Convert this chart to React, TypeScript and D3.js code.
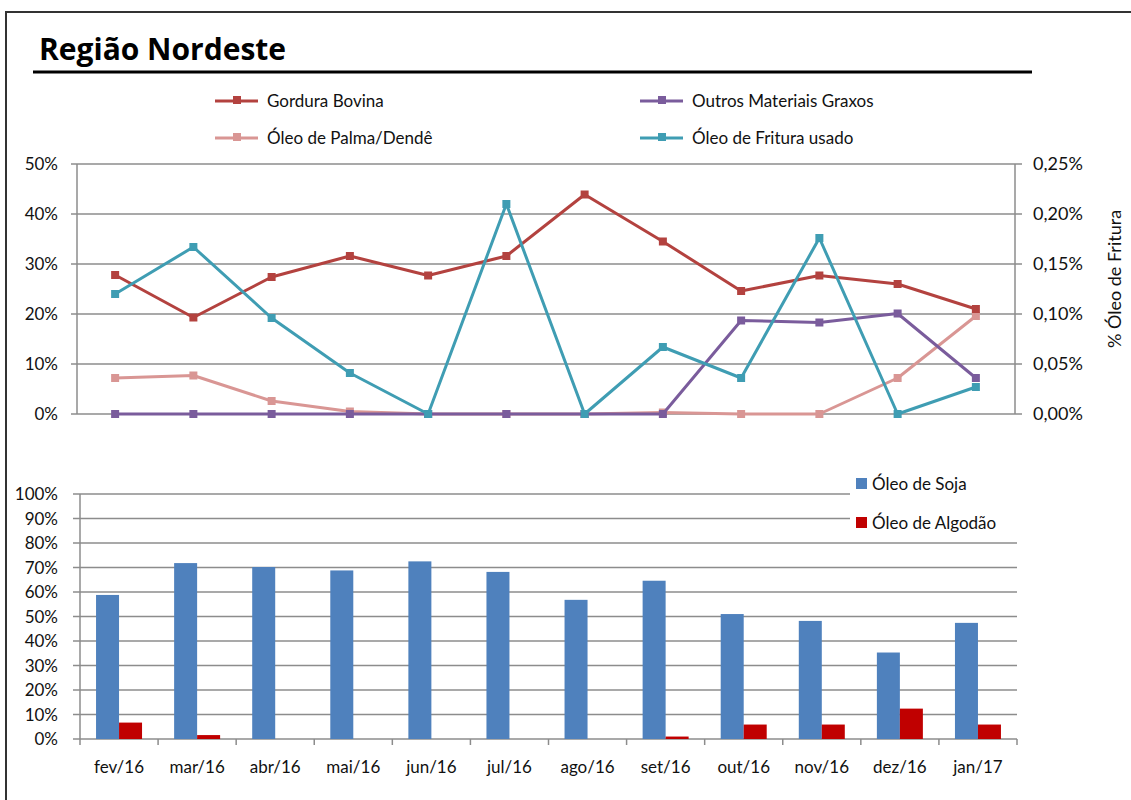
import React from "react";
import * as d3 from "d3";

const months = ["fev/16","mar/16","abr/16","mai/16","jun/16","jul/16","ago/16","set/16","out/16","nov/16","dez/16","jan/17"];
const gorduraBovina = [27.8,19.3,27.4,31.6,27.7,31.6,43.9,34.5,24.6,27.7,26.0,21.0];
const outrosMateriais = [0,0,0,0,0,0,0,0,18.7,18.3,20.1,7.2];
const oleoPalma = [7.2,7.7,2.6,0.5,0,0,0,0.3,0,0,7.2,19.6];
const oleoFritura = [0.120,0.167,0.096,0.041,0,0.210,0,0.067,0.036,0.176,0,0.027];
const oleoSoja = [58.8,71.8,70.2,68.8,72.5,68.2,56.8,64.6,51.0,48.2,35.3,47.4];
const oleoAlgodao = [6.7,1.6,0,0,0,0,0,1.0,5.9,5.9,12.4,5.9];
const leftTicks = [0,10,20,30,40,50];
const rightTicks = [0,0.05,0.1,0.15,0.2,0.25];
const barTicks = [0,10,20,30,40,50,60,70,80,90,100];

const C_GORD = "#B3423F";
const C_OUT = "#7A5C9C";
const C_PALMA = "#D99694";
const C_FRIT = "#3F9DB3";
const C_SOJA = "#4F81BD";
const C_ALG = "#C00000";
const GRID = "#8C8C8C";
const FONT = "Lato, 'Open Sans', sans-serif";

export default function App() {
  const xTop = d3.scaleBand<string>().domain(months).range([76, 1015]);
  const yL = d3.scaleLinear().domain([0, 50]).range([414, 164]);
  const yR = d3.scaleLinear().domain([0, 0.25]).range([414, 164]);
  const xBot = d3.scaleBand<string>().domain(months).range([80, 1017]);
  const yB = d3.scaleLinear().domain([0, 100]).range([739, 494]);
  const cx = (m: string) => (xTop(m) as number) + xTop.bandwidth() / 2;

  const lineL = d3.line<number>().x((_, i) => cx(months[i])).y((d) => yL(d));
  const lineR = d3.line<number>().x((_, i) => cx(months[i])).y((d) => yR(d));

  const series = [
    { name: "Óleo de Palma/Dendê", data: oleoPalma, color: C_PALMA, right: false },
    { name: "Outros Materiais Graxos", data: outrosMateriais, color: C_OUT, right: false },
    { name: "Gordura Bovina", data: gorduraBovina, color: C_GORD, right: false },
    { name: "Óleo de Fritura usado", data: oleoFritura, color: C_FRIT, right: true },
  ];

  const legendTop = [
    { name: "Gordura Bovina", color: C_GORD, x: 215, y: 101 },
    { name: "Outros Materiais Graxos", color: C_OUT, x: 640, y: 101 },
    { name: "Óleo de Palma/Dendê", color: C_PALMA, x: 215, y: 138 },
    { name: "Óleo de Fritura usado", color: C_FRIT, x: 640, y: 138 },
  ];

  const bw = 23;
  const bandB = xBot.bandwidth();
  const TF = 17;

  return (
    <svg width={1131} height={800} style={{ position: "absolute", left: 0, top: 0, fontFamily: FONT }}>
      <rect x={0} y={0} width={1131} height={800} fill="#fff" />
      <rect x={6} y={12} width={1140} height={800} fill="none" stroke="#333" strokeWidth={2} />
      <text x={39} y={60} fontSize={30} fontWeight="bold" fill="#000" style={{ fontFamily: "'Open Sans', sans-serif" }}>Região Nordeste</text>
      <line x1={33} x2={1032} y1={72} y2={72} stroke="#000" strokeWidth={3} />

      {/* top legend */}
      {legendTop.map((l) => (
        <g key={l.name}>
          <line x1={l.x} x2={l.x + 43} y1={l.y} y2={l.y} stroke={l.color} strokeWidth={3} />
          <rect x={l.x + 18} y={l.y - 5} width={8} height={8} fill={l.color} />
          <text x={l.x + 52} y={l.y + 6} fontSize={17} fill="#111">{l.name}</text>
        </g>
      ))}

      {/* top grid */}
      {leftTicks.map((t) => (
        <g key={"gl" + t}>
          <line x1={71} x2={1022} y1={yL(t)} y2={yL(t)} stroke={GRID} strokeWidth={1.5} />
          <text x={58} y={yL(t) + 6} fontSize={TF} textAnchor="end" fill="#111">{t}%</text>
        </g>
      ))}
      {rightTicks.map((t) => (
        <text key={"r" + t} x={1033} y={yR(t) + 6} fontSize={18} fill="#111">
          {t.toFixed(2).replace(".", ",")}%
        </text>
      ))}
      <line x1={77} x2={77} y1={164} y2={414} stroke={GRID} strokeWidth={1.5} />
      <line x1={1015} x2={1015} y1={164} y2={414} stroke={GRID} strokeWidth={1.5} />
      <text transform="translate(1121,279) rotate(-90)" fontSize={18} textAnchor="middle" fill="#111">% Óleo de Fritura</text>

      {/* lines */}
      {series.map((s) => (
        <g key={s.name}>
          <path d={(s.right ? lineR : lineL)(s.data) as string} fill="none" stroke={s.color} strokeWidth={3} strokeLinejoin="round" />
          {s.data.map((d, i) => (
            <rect key={i} x={cx(months[i]) - 4} y={(s.right ? yR(d) : yL(d)) - 4} width={8} height={8} fill={s.color} />
          ))}
        </g>
      ))}

      {/* bottom grid */}
      {barTicks.map((t) => (
        <g key={"gb" + t}>
          <line x1={73} x2={1017} y1={yB(t)} y2={yB(t)} stroke={GRID} strokeWidth={1.5} />
          <text x={58} y={yB(t) + 6} fontSize={TF} textAnchor="end" fill="#111">{t}%</text>
        </g>
      ))}
      <line x1={80} x2={80} y1={494} y2={739} stroke={GRID} strokeWidth={1.5} />
      {months.map((m) => (
        <line key={"tk" + m} x1={xBot(m) as number} x2={xBot(m) as number} y1={739} y2={745} stroke={GRID} strokeWidth={1.5} />
      ))}
      <line x1={1017} x2={1017} y1={739} y2={745} stroke={GRID} strokeWidth={1.5} />

      {/* bars */}
      {months.map((m, i) => {
        const c = (xBot(m) as number) + bandB / 2;
        return (
          <g key={"b" + m}>
            <rect x={c - bw} y={yB(oleoSoja[i])} width={bw} height={yB(0) - yB(oleoSoja[i])} fill={C_SOJA} />
            {oleoAlgodao[i] > 0 && (
              <rect x={c} y={yB(oleoAlgodao[i])} width={bw} height={yB(0) - yB(oleoAlgodao[i])} fill={C_ALG} />
            )}
            <text x={c} y={773} fontSize={TF} textAnchor="middle" fill="#111">{m}</text>
          </g>
        );
      })}

      {/* bottom legend */}
      <rect x={850} y={472} width={167} height={58} fill="#fff" />
      <rect x={856} y={478} width={11} height={11} fill={C_SOJA} />
      <text x={872} y={490} fontSize={17} fill="#111">Óleo de Soja</text>
      <rect x={856} y={517} width={11} height={11} fill={C_ALG} />
      <text x={872} y={529} fontSize={17} fill="#111">Óleo de Algodão</text>
    </svg>
  );
}
